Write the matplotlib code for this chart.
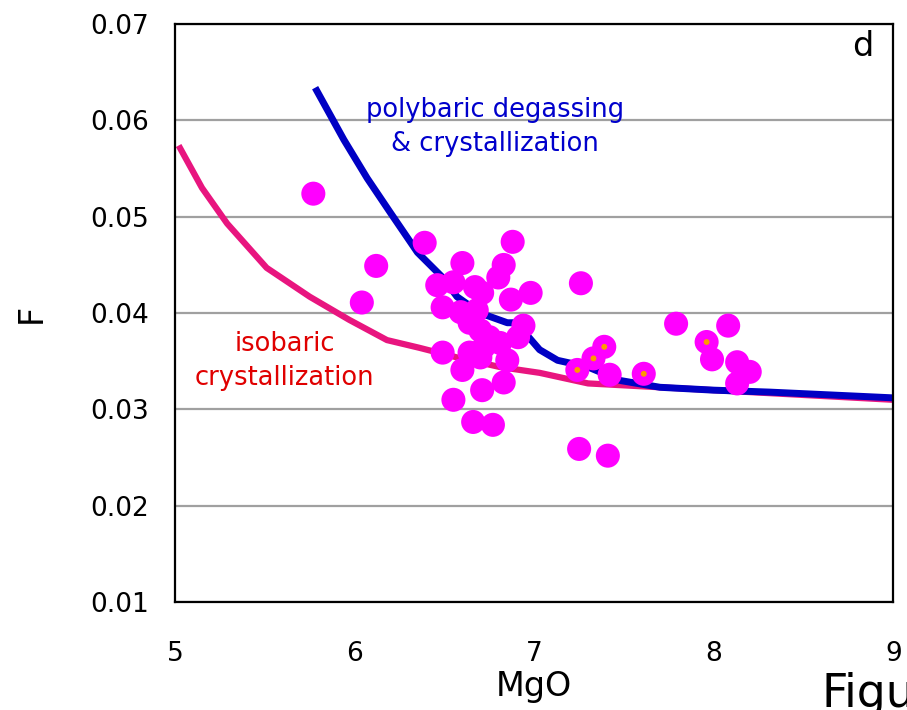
import matplotlib
matplotlib.use('Agg')
import matplotlib.pyplot as plt

# samples (MgO, F)
mgo = [5.77, 6.12, 6.04, 6.39, 6.88, 6.60, 6.83, 6.80, 6.46, 6.55, 6.67, 6.71,
       6.87, 6.98, 6.49, 6.59, 6.68, 6.64, 6.70, 6.75, 6.94, 6.91, 6.81, 6.72,
       6.49, 6.64, 6.70, 6.85, 6.60, 6.83, 6.71, 6.55, 6.66, 6.77, 7.26, 7.79,
       8.08, 7.96, 7.99, 8.13, 8.20, 8.13, 7.39, 7.33, 7.24, 7.42, 7.61, 7.25,
       7.41]
f_val = [0.0524, 0.0449, 0.0411, 0.0473, 0.0474, 0.0452, 0.0450, 0.0437, 0.0429,
         0.0432, 0.0427, 0.0421, 0.0414, 0.0421, 0.0406, 0.0401, 0.0403, 0.0390,
         0.0382, 0.0375, 0.0387, 0.0375, 0.0369, 0.0365, 0.0359, 0.0359, 0.0354,
         0.0351, 0.0341, 0.0328, 0.0320, 0.0310, 0.0287, 0.0284, 0.0431, 0.0389,
         0.0387, 0.0370, 0.0352, 0.0349, 0.0339, 0.0327, 0.0365, 0.0353, 0.0341,
         0.0336, 0.0337, 0.0259, 0.0252]
# samples marked with a small orange dot
dot_mgo = [7.96, 7.39, 7.33, 7.24, 7.61]
dot_f = [0.0370, 0.0365, 0.0353, 0.0341, 0.0337]

# model curves
poly_mgo = [5.78, 5.94, 6.07, 6.20, 6.35, 6.49, 6.57, 6.70, 6.85, 6.90, 7.03,
            7.13, 7.30, 7.48, 7.70, 8.00, 8.31, 9.00]
poly_f = [0.0634, 0.0580, 0.0540, 0.0504, 0.0463, 0.0437, 0.0417, 0.0400,
          0.0390, 0.0390, 0.0362, 0.0351, 0.0344, 0.0330, 0.0323, 0.0320,
          0.0318, 0.0312]
iso_mgo = [5.02, 5.15, 5.29, 5.51, 5.75, 5.97, 6.18, 6.36, 6.57, 6.81, 7.03,
           7.30, 7.70, 9.00]
iso_f = [0.0574, 0.0530, 0.0493, 0.0447, 0.0417, 0.0393, 0.0372, 0.0364,
         0.0354, 0.0344, 0.0338, 0.0327, 0.0323, 0.0310]

x_ticks = [5, 6, 7, 8, 9]
y_ticks = [0.01, 0.02, 0.03, 0.04, 0.05, 0.06, 0.07]
y_labels = ['0.01', '0.02', '0.03', '0.04', '0.05', '0.06', '0.07']

plt.rcParams['font.family'] = ['DejaVu Sans']

fig = plt.figure(figsize=(9.07, 7.10), dpi=100)
ax = fig.add_axes([0.193, 0.152, 0.792, 0.814])

for y in y_ticks:
    ax.axhline(y, color='#a0a0a0', lw=1.6, zorder=1)

ax.plot(iso_mgo, iso_f, color='#e8157f', lw=4.5, zorder=2, solid_capstyle='butt')
ax.plot(poly_mgo, poly_f, color='#0000c4', lw=5, zorder=3, solid_capstyle='butt')
ax.scatter(mgo, f_val, s=300, color='#ff00ff', edgecolors='none', zorder=4)
ax.scatter(dot_mgo, dot_f, s=18, color='#ff9900', edgecolors='none', zorder=5)

ax.set_xlim(5, 9)
ax.set_ylim(0.01, 0.07)
ax.set_xticks(x_ticks)
ax.set_xticklabels([str(x) for x in x_ticks])
ax.set_yticks(y_ticks)
ax.set_yticklabels(y_labels)
ax.tick_params(axis='both', length=0, labelsize=19)
ax.tick_params(axis='x', pad=28)
ax.tick_params(axis='y', pad=19)
for sp in ax.spines.values():
    sp.set_linewidth(1.6)
    sp.set_zorder(6)

ax.set_xlabel('MgO', fontsize=24, labelpad=2)
fig.text(31 / 907, 1 - 313 / 710, 'F', fontsize=24, rotation=90,
         ha='center', va='center')

ax.text(8.83, 0.0677, 'd', fontsize=24, ha='center', va='center')
ax.text(6.78, 0.0593, 'polybaric degassing\n& crystallization', color='#0000cc',
        fontsize=18.5, ha='center', va='center', linespacing=1.38)
ax.text(5.61, 0.0350, 'isobaric\ncrystallization', color='#e00000',
        fontsize=18.5, ha='center', va='center', linespacing=1.42)

fig.text(822 / 907, 3 / 710, 'Figure', fontsize=33, ha='left', va='baseline')

fig.savefig('out.png', dpi=100)
